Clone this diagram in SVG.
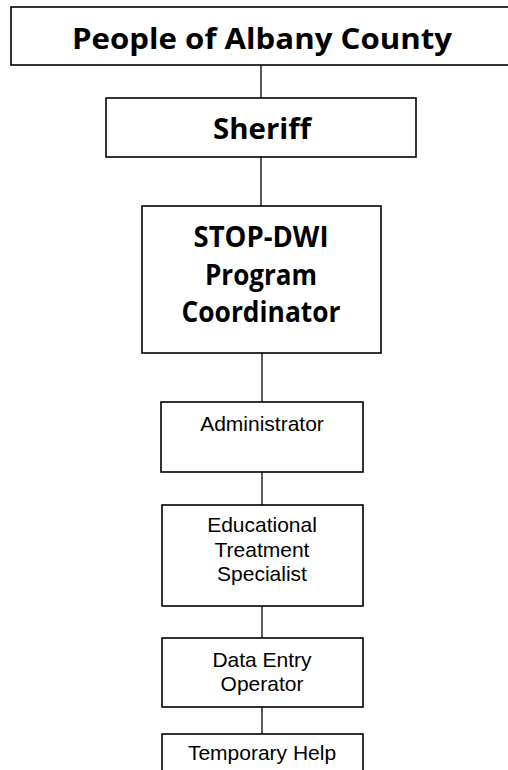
<svg xmlns="http://www.w3.org/2000/svg" width="508" height="770" viewBox="0 0 508 770">
<style>
.box{fill:#fff;stroke:#000;stroke-width:1.6}
.ln{stroke:#000;stroke-width:1.3;fill:none}
.b{font-family:"Open Sans","Liberation Sans",sans-serif;font-weight:bold;font-size:29px;text-anchor:middle;fill:#000}
.r{font-family:"Liberation Sans",Arial,sans-serif;font-size:21px;text-anchor:middle;fill:#000}
</style>
<rect width="508" height="770" fill="#fff"/>
<g id="connectors">
<line class="ln" x1="261" y1="65" x2="261" y2="98"/>
<line class="ln" x1="261" y1="157" x2="261" y2="206"/>
<line class="ln" x1="262" y1="353" x2="262" y2="402"/>
<line class="ln" x1="262" y1="472" x2="262" y2="505"/>
<line class="ln" x1="262" y1="606" x2="262" y2="638"/>
<line class="ln" x1="262" y1="707" x2="262" y2="734"/>
</g>
<g id="people">
<rect class="box" x="11" y="7" width="510" height="58"/>
<text class="b" x="262" y="49" textLength="380" lengthAdjust="spacingAndGlyphs">People of Albany County</text>
</g>
<g id="sheriff">
<rect class="box" x="106" y="98" width="310" height="59"/>
<text class="b" x="262" y="139" textLength="98" lengthAdjust="spacingAndGlyphs">Sheriff</text>
</g>
<g id="coordinator">
<rect class="box" x="142" y="206" width="239" height="147"/>
<text class="b" x="261" y="247" textLength="135" lengthAdjust="spacingAndGlyphs">STOP-DWI</text>
<text class="b" x="261" y="285" textLength="112" lengthAdjust="spacingAndGlyphs">Program</text>
<text class="b" x="261" y="322" textLength="159" lengthAdjust="spacingAndGlyphs">Coordinator</text>
</g>
<g id="administrator">
<rect class="box" x="161" y="402" width="202" height="70"/>
<text class="r" x="262" y="431">Administrator</text>
</g>
<g id="specialist">
<rect class="box" x="162" y="505" width="201" height="101"/>
<text class="r" x="262" y="532">Educational</text>
<text class="r" x="262" y="557">Treatment</text>
<text class="r" x="262" y="581">Specialist</text>
</g>
<g id="data-entry">
<rect class="box" x="162" y="638" width="201" height="69"/>
<text class="r" x="262" y="667">Data Entry</text>
<text class="r" x="262" y="691">Operator</text>
</g>
<g id="temporary">
<rect class="box" x="162" y="734" width="201" height="60"/>
<text class="r" x="262" y="760">Temporary Help</text>
</g>
</svg>
